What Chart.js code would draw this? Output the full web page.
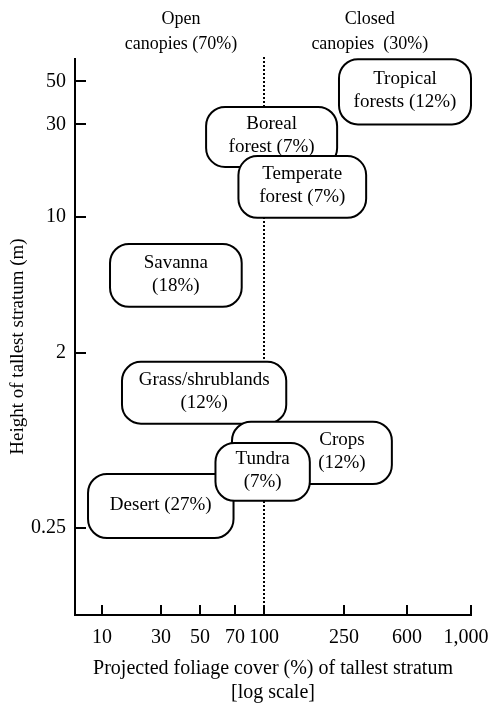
<!DOCTYPE html>
<html lang="en">

<head>
  <meta charset="UTF-8">
  <title>Biomes | Canopy cover vs height</title>
  <script src="https://cdn.jsdelivr.net/npm/chart.js"></script>
  <style>
    html,
    body {
      margin: 0;
      padding: 0;
      background: #ffffff;
    }

    .chart-container {
      width: 489px;
      height: 705px;
    }
  </style>
</head>

<body>

  <div class="chart-container">
    <canvas id="biomeChart"></canvas>
  </div>

  <script>
    // Axis ticks
    const coverTicks = [10, 30, 50, 70, 100, 250, 600, 1000];
    const coverTickLabels = ['10', '30', '50', '70', '100', '250', '600', '1,000'];
    const heightTicks = [0.25, 2, 10, 30, 50];

    // Biomes: foliage cover range (%) and tallest stratum range (m)
    const biomeNames = [
      ['Tropical', 'forests (12%)'],
      ['Boreal', 'forest (7%)'],
      ['Temperate', 'forest (7%)'],
      ['Savanna', '(18%)'],
      ['Grass/shrublands', '(12%)'],
      ['Crops', '(12%)'],
      ['Desert (27%)'],
      ['Tundra', '(7%)']
    ];
    const coverLow = [236, 53, 73, 11.6, 14.5, 68, 7.7, 58];
    const coverHigh = [1000, 231, 340, 76, 129, 486, 69, 169];
    const heightLow = [30, 18.1, 9.9, 3.44, 0.86, 0.42, 0.221, 0.344];
    const heightHigh = [65, 36.9, 20.6, 7.26, 1.79, 0.88, 0.473, 0.684];
    const labelCover = [null, null, null, null, null, 244, null, null]; // crops label sits off-centre

    // Canopy groups
    const canopyNames = [['Open', 'canopies (70%)'], ['Closed', 'canopies  (30%)']];
    const canopyCover = [39, 358];
    const canopySplit = 100;

    // the printed cover axis is not evenly logarithmic: where each tick sits on it
    const coverTickSlots = [1, 1.364, 1.605, 1.821, 2, 2.494, 2.883, 3.278];

    function toAxis(v) {
      const lv = Math.log10(v);
      const logs = coverTicks.map(t => Math.log10(t));
      let i = 0;
      while (i < logs.length - 2 && lv > logs[i + 1]) i++;
      const f = (lv - logs[i]) / (logs[i + 1] - logs[i]);
      return coverTickSlots[i] + f * (coverTickSlots[i + 1] - coverTickSlots[i]);
    }

    const FONT = "'Liberation Serif', 'Times New Roman', serif";
    Chart.defaults.font.family = FONT;
    Chart.defaults.color = '#000';

    const corners = [];
    biomeNames.forEach((n, i) => {
      corners.push({ x: toAxis(coverLow[i]), y: heightLow[i] });
      corners.push({ x: toAxis(coverHigh[i]), y: heightHigh[i] });
    });

    const biomeBoxes = {
      id: 'biomeBoxes',
      beforeDatasetsDraw(chart) {
        const { ctx, chartArea, scales: { x } } = chart;
        const px = Math.round(x.getPixelForValue(toAxis(canopySplit)));
        ctx.save();
        ctx.setLineDash([2, 2]);
        ctx.lineWidth = 2;
        ctx.strokeStyle = '#000';
        ctx.beginPath();
        ctx.moveTo(px, chartArea.top - 2);
        ctx.lineTo(px, chartArea.bottom);
        ctx.stroke();
        ctx.restore();
      },
      afterDatasetsDraw(chart) {
        const { ctx, scales: { x, y } } = chart;
        ctx.save();
        biomeNames.forEach((lines, i) => {
          const x0 = x.getPixelForValue(toAxis(coverLow[i]));
          const x1 = x.getPixelForValue(toAxis(coverHigh[i]));
          const y0 = y.getPixelForValue(heightHigh[i]);
          const y1 = y.getPixelForValue(heightLow[i]);
          ctx.beginPath();
          ctx.roundRect(x0, y0, x1 - x0, y1 - y0, 19);
          ctx.fillStyle = '#fff';
          ctx.fill();
          ctx.lineWidth = 2;
          ctx.strokeStyle = '#000';
          ctx.stroke();

          const cx = labelCover[i] ? x.getPixelForValue(toAxis(labelCover[i])) : (x0 + x1) / 2;
          const cy = (y0 + y1) / 2;
          ctx.fillStyle = '#000';
          ctx.font = '19px ' + FONT;
          ctx.textAlign = 'center';
          ctx.textBaseline = 'middle';
          lines.forEach((t, j) => {
            ctx.fillText(t, cx, cy - 1 + (j - (lines.length - 1) / 2) * 23);
          });
        });
        ctx.restore();
      },
      afterDraw(chart) {
        const { ctx, chartArea, scales: { x, y } } = chart;
        ctx.save();
        ctx.strokeStyle = '#000';
        ctx.lineWidth = 2;
        // ticks point inwards
        ctx.beginPath();
        x.ticks.forEach(t => {
          const px = Math.round(x.getPixelForValue(t.value));
          ctx.moveTo(px, chartArea.bottom);
          ctx.lineTo(px, chartArea.bottom - 10);
        });
        y.ticks.forEach(t => {
          const py = Math.round(y.getPixelForValue(t.value));
          ctx.moveTo(chartArea.left, py);
          ctx.lineTo(chartArea.left + 11, py);
        });
        ctx.stroke();

        // canopy headers
        ctx.fillStyle = '#000';
        ctx.font = '18px ' + FONT;
        ctx.textAlign = 'center';
        ctx.textBaseline = 'middle';
        canopyNames.forEach((lines, i) => {
          const cx = x.getPixelForValue(toAxis(canopyCover[i]));
          lines.forEach((t, j) => {
            ctx.fillText(t, cx, chartArea.top - 40 + j * 25);
          });
        });
        ctx.restore();
      }
    };

    const ctx = document.getElementById('biomeChart').getContext('2d');
    new Chart(ctx, {
      type: 'scatter',
      data: {
        datasets: [{
          data: corners,
          pointRadius: 0,
          showLine: false
        }]
      },
      options: {
        responsive: true,
        maintainAspectRatio: false,
        animation: false,
        layout: {
          padding: { top: 59, right: 18, left: 0, bottom: 0 }
        },
        plugins: {
          legend: { display: false },
          tooltip: { enabled: false }
        },
        scales: {
          x: {
            type: 'linear',
            min: 0.833,
            max: 3.278,
            grid: { display: false, drawTicks: false },
            border: { display: true, color: '#000', width: 2 },
            afterBuildTicks: scale => {
              scale.ticks = coverTicks.map(v => ({ value: toAxis(v) }));
            },
            afterFit: scale => {
              scale.height = 90;
              scale.paddingLeft = 0;
              scale.paddingRight = 0;
            },
            ticks: {
              autoSkip: false,
              maxRotation: 0,
              padding: 11,
              font: { size: 20 },
              // last label is set in from the edge, as printed
              callback: (value, index) => index === coverTickLabels.length - 1 ? coverTickLabels[index] + '  ' : coverTickLabels[index]
            },
            title: {
              display: true,
              text: ['Projected foliage cover (%) of tallest stratum', '[log scale]'],
              font: { size: 20, lineHeight: '24px' },
              padding: 0
            }
          },
          y: {
            type: 'logarithmic',
            min: 0.0887,
            max: 65.2,
            grid: { display: false, drawTicks: false },
            border: { display: true, color: '#000', width: 2 },
            afterBuildTicks: scale => {
              scale.ticks = heightTicks.map(v => ({ value: v }));
            },
            afterFit: scale => {
              scale.width = 75;
              scale.paddingTop = 0;
              scale.paddingBottom = 0;
            },
            ticks: {
              autoSkip: false,
              padding: 9,
              font: { size: 20 },
              callback: value => String(value)
            },
            title: {
              display: true,
              text: 'Height of tallest stratum (m)    ',
              font: { size: 19 },
              padding: { top: 7, bottom: 0 }
            }
          }
        }
      },
      plugins: [biomeBoxes]
    });
  </script>

</body>

</html>
